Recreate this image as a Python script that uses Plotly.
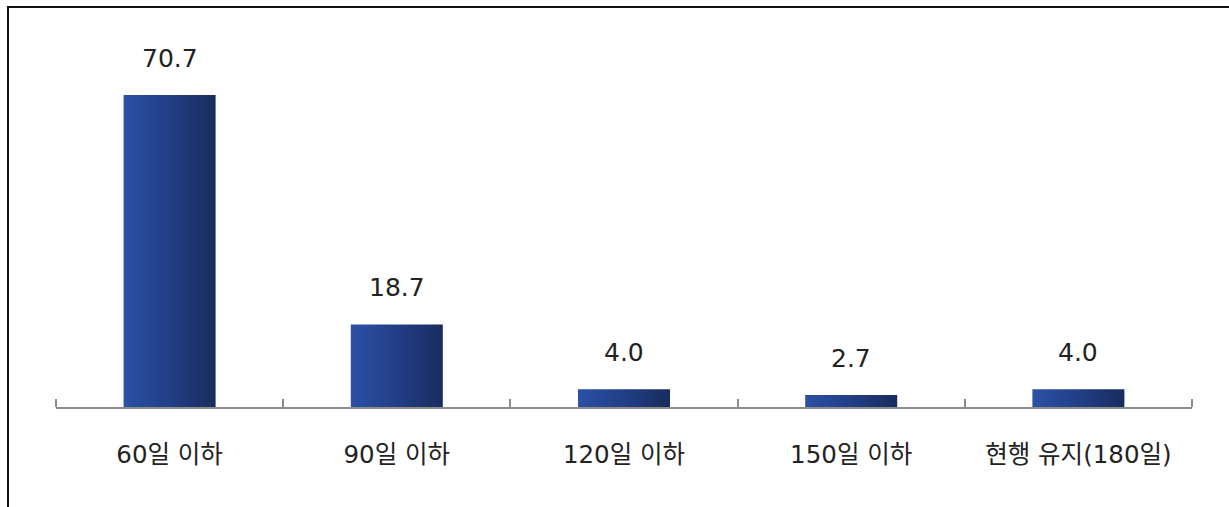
import plotly.graph_objects as go

# Survey: preferred period (share of respondents, %)
categories = ["60일 이하", "90일 이하", "120일 이하", "150일 이하", "현행 유지(180일)"]
values = [70.7, 18.7, 4.0, 2.7, 4.0]
value_labels = ["70.7", "18.7", "4.0", "2.7", "4.0"]

BAR_W = 0.405
FONT = "DejaVu Sans, Noto Sans CJK KR, sans-serif"

fig = go.Figure()

# each bar is a filled polygon so it can carry a left-to-right gradient
for i, v in enumerate(values):
    x0, x1 = i - BAR_W / 2, i + BAR_W / 2
    fig.add_trace(go.Scatter(
        x=[x0, x1, x1, x0, x0],
        y=[0, 0, v, v, 0],
        mode="lines",
        line=dict(width=0),
        fill="toself",
        fillgradient=dict(
            type="horizontal",
            colorscale=[[0, "#2b50a6"], [0.5, "#223f86"], [1, "#182c5d"]],
        ),
        hoverinfo="skip",
        showlegend=False,
    ))

# value labels above the bars
for i, (v, t) in enumerate(zip(values, value_labels)):
    fig.add_annotation(
        x=i, y=v, text=t, showarrow=False, yshift=37,
        font=dict(family=FONT, size=25, color="#222222"),
    )

fig.update_xaxes(
    range=[-0.5, len(categories) - 0.5],
    tickmode="array",
    tickvals=list(range(len(categories))),
    ticktext=categories,
    ticks="",
    ticklabelstandoff=25,
    tickfont=dict(family=FONT, size=24.5, color="#222222"),
    showline=True, linecolor="#8c8c8c", linewidth=1.5,
    showgrid=False, zeroline=False,
    minor=dict(ticks="inside", tick0=-0.5, dtick=1, ticklen=8,
               tickcolor="#8c8c8c", tickwidth=1.5, showgrid=False),
)
fig.update_yaxes(range=[0, 87.7], visible=False, showgrid=False, zeroline=False)

# outer frame (top and left edges visible)
fig.add_shape(
    type="rect", xref="paper", yref="paper",
    x0=-48 / 1136, x1=1.2, y0=-0.5, y1=1 + 13 / 387,
    line=dict(color="#111111", width=2), fillcolor="rgba(0,0,0,0)",
    layer="above",
)

fig.update_layout(
    width=1229, height=507,
    margin=dict(l=56, r=37, t=20, b=100),
    paper_bgcolor="white", plot_bgcolor="white",
)

fig.write_html("out.html")
